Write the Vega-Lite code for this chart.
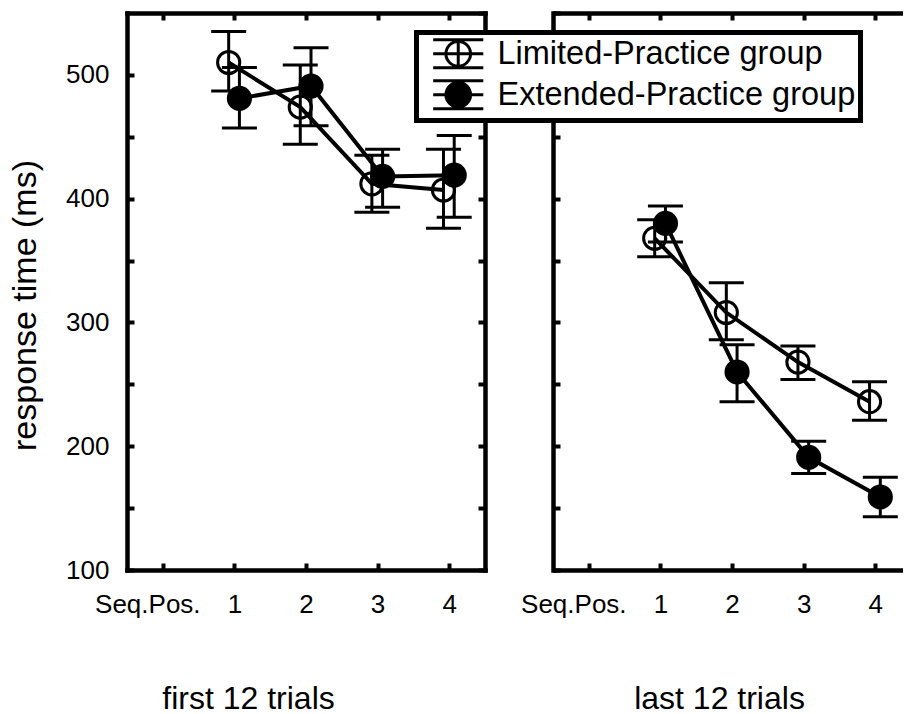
{
  "$schema": "https://vega.github.io/schema/vega-lite/v6.json",
  "padding": {"left": 8, "top": 11, "right": 0, "bottom": 0},
  "background": "white",
  "data": {
    "values": [
      {"block": "first", "group": "Limited-Practice group", "x": 0.92, "rt": 510, "lo": 487, "hi": 535},
      {"block": "first", "group": "Limited-Practice group", "x": 1.92, "rt": 474, "lo": 444, "hi": 508},
      {"block": "first", "group": "Limited-Practice group", "x": 2.92, "rt": 412, "lo": 389, "hi": 435},
      {"block": "first", "group": "Limited-Practice group", "x": 3.92, "rt": 407, "lo": 376, "hi": 440},
      {"block": "first", "group": "Extended-Practice group", "x": 1.07, "rt": 481, "lo": 457, "hi": 506},
      {"block": "first", "group": "Extended-Practice group", "x": 2.07, "rt": 491, "lo": 459, "hi": 522},
      {"block": "first", "group": "Extended-Practice group", "x": 3.07, "rt": 418, "lo": 393, "hi": 440},
      {"block": "first", "group": "Extended-Practice group", "x": 4.07, "rt": 419, "lo": 385, "hi": 451},
      {"block": "last", "group": "Limited-Practice group", "x": 0.92, "rt": 368, "lo": 353, "hi": 383},
      {"block": "last", "group": "Limited-Practice group", "x": 1.92, "rt": 308, "lo": 286, "hi": 332},
      {"block": "last", "group": "Limited-Practice group", "x": 2.92, "rt": 268, "lo": 254, "hi": 281},
      {"block": "last", "group": "Limited-Practice group", "x": 3.92, "rt": 236, "lo": 221, "hi": 252},
      {"block": "last", "group": "Extended-Practice group", "x": 1.07, "rt": 380, "lo": 365, "hi": 394},
      {"block": "last", "group": "Extended-Practice group", "x": 2.07, "rt": 260, "lo": 236, "hi": 282},
      {"block": "last", "group": "Extended-Practice group", "x": 3.07, "rt": 191, "lo": 178, "hi": 204},
      {"block": "last", "group": "Extended-Practice group", "x": 4.07, "rt": 159, "lo": 143, "hi": 175}
    ]
  },
  "spacing": 68,
  "bounds": "flush",
  "hconcat": [
    {
      "width": 358,
      "height": 557,
      "transform": [{"filter": "datum.block == 'first'"}],
      "layer": [
        {
          "mark": {"type": "rule", "stroke": "black", "strokeWidth": 3},
          "encoding": {
            "x": {"field": "x", "type": "quantitative", "scale": {"domain": [-0.5, 4.5], "nice": false, "zero": false},
              "axis": {"orient": "bottom", "values": [0, 1, 2, 3, 4], "domainCap": "square",
                "labelExpr": "datum.value == 0 ? 'Seq.Pos.' : datum.label",
                "labelOffset": {"condition": {"test": "datum.value == 0", "value": -15.5}, "value": 0},
                "labelPadding": 28,
                "title": "first 12 trials", "titleX": 121, "titleY": 138, "titleBaseline": "alphabetic"}},
            "y": {"field": "lo", "type": "quantitative", "scale": {"domain": [100, 550], "nice": false, "zero": false},
              "axis": {"orient": "left", "values": [100, 150, 200, 250, 300, 350, 400, 450, 500], "domainCap": "square",
                "labelExpr": "datum.value % 100 == 0 ? datum.label : ''",
                "labelPadding": 25,
                "title": "response time (ms)", "titleFontSize": 34, "titleX": -85, "titleY": 292}},
            "y2": {"field": "hi"}
          }
        },
        {
          "mark": {"type": "tick", "orient": "horizontal", "size": 35, "thickness": 3, "color": "black", "opacity": 1},
          "encoding": {
            "x": {"field": "x", "type": "quantitative",
              "axis": {"orient": "top", "values": [0, 1, 2, 3, 4], "labels": false, "title": null, "domainCap": "square"}},
            "y": {"field": "lo", "type": "quantitative",
              "axis": {"orient": "right", "values": [100, 150, 200, 250, 300, 350, 400, 450, 500, 550], "labels": false, "title": null, "domainCap": "square"}}
          }
        },
        {
          "mark": {"type": "tick", "orient": "horizontal", "size": 35, "thickness": 3, "color": "black", "opacity": 1},
          "encoding": {
            "x": {"field": "x", "type": "quantitative", "axis": null},
            "y": {"field": "hi", "type": "quantitative", "axis": null}
          }
        },
        {
          "mark": {"type": "line", "stroke": "black", "strokeWidth": 4},
          "encoding": {
            "x": {"field": "x", "type": "quantitative", "axis": null},
            "y": {"field": "rt", "type": "quantitative", "axis": null},
            "detail": {"field": "group", "type": "nominal"}
          }
        },
        {
          "mark": {"type": "point", "shape": "circle", "size": 491, "filled": true, "stroke": "black", "strokeWidth": 3, "opacity": 1},
          "encoding": {
            "x": {"field": "x", "type": "quantitative", "axis": null},
            "y": {"field": "rt", "type": "quantitative", "axis": null},
            "fill": {"field": "group", "type": "nominal",
              "scale": {"domain": ["Limited-Practice group", "Extended-Practice group"], "range": ["transparent", "black"]},
              "legend": {"title": null, "orient": "none", "legendX": 289.5, "legendY": 19.5,
                "symbolType": "M-1.79,-1H1.79M-1.79,0H1.79M-1.79,1H1.79M0,-1V1M0.88,0A0.88,0.88,0,1,1,-0.88,0A0.88,0.88,0,1,1,0.88,0Z",
                "symbolSize": 784, "symbolStrokeColor": "black", "symbolStrokeWidth": 3,
                "labelFontSize": 32.5, "labelFont": "Liberation Sans", "labelColor": "black", "labelLimit": 0,
                "labelOffset": 23, "symbolOffset": 20.5, "padding": 5, "rowPadding": 0,
                "strokeColor": "black", "fillColor": "white",
                "encode": {"legend": {"update": {"strokeWidth": {"value": 5}}}}}}
          }
        }
      ],
      "resolve": {"axis": {"x": "independent", "y": "independent"}}
    },
    {
      "width": 349.5,
      "height": 557,
      "transform": [{"filter": "datum.block == 'last'"}],
      "layer": [
        {
          "mark": {"type": "rule", "stroke": "black", "strokeWidth": 3},
          "encoding": {
            "x": {"field": "x", "type": "quantitative", "scale": {"domain": [-0.5, 4.38], "nice": false, "zero": false},
              "axis": {"orient": "bottom", "values": [0, 1, 2, 3, 4], "domainCap": "butt",
                "labelExpr": "datum.value == 0 ? 'Seq.Pos.' : datum.label",
                "labelOffset": {"condition": {"test": "datum.value == 0", "value": -15.5}, "value": 0},
                "labelPadding": 28,
                "title": "last 12 trials", "titleX": 166, "titleY": 138, "titleBaseline": "alphabetic"}},
            "y": {"field": "lo", "type": "quantitative", "scale": {"domain": [100, 550], "nice": false, "zero": false},
              "axis": {"orient": "left", "values": [100, 150, 200, 250, 300, 350, 400, 450, 500, 550], "domainCap": "square",
                "labels": false, "title": null}},
            "y2": {"field": "hi"}
          }
        },
        {
          "mark": {"type": "tick", "orient": "horizontal", "size": 35, "thickness": 3, "color": "black", "opacity": 1},
          "encoding": {
            "x": {"field": "x", "type": "quantitative",
              "axis": {"orient": "top", "values": [0, 1, 2, 3, 4], "labels": false, "title": null, "domainCap": "butt"}},
            "y": {"field": "lo", "type": "quantitative", "axis": null}
          }
        },
        {
          "mark": {"type": "tick", "orient": "horizontal", "size": 35, "thickness": 3, "color": "black", "opacity": 1},
          "encoding": {
            "x": {"field": "x", "type": "quantitative", "axis": null},
            "y": {"field": "hi", "type": "quantitative", "axis": null}
          }
        },
        {
          "mark": {"type": "line", "stroke": "black", "strokeWidth": 4},
          "encoding": {
            "x": {"field": "x", "type": "quantitative", "axis": null},
            "y": {"field": "rt", "type": "quantitative", "axis": null},
            "detail": {"field": "group", "type": "nominal"}
          }
        },
        {
          "mark": {"type": "point", "shape": "circle", "size": 491, "filled": true, "stroke": "black", "strokeWidth": 3, "opacity": 1},
          "encoding": {
            "x": {"field": "x", "type": "quantitative", "axis": null},
            "y": {"field": "rt", "type": "quantitative", "axis": null},
            "fill": {"field": "group", "type": "nominal",
              "scale": {"domain": ["Limited-Practice group", "Extended-Practice group"], "range": ["transparent", "black"]}}
          }
        }
      ],
      "resolve": {"axis": {"x": "independent", "y": "independent"}}
    }
  ],
  "config": {
    "font": "Liberation Sans",
    "view": {"stroke": null},
    "legend": {"strokeWidth": 5},
    "axis": {
      "domainColor": "black", "tickColor": "black", "labelColor": "black", "titleColor": "black",
      "domainWidth": 4.5, "tickWidth": 4, "tickSize": -7, "grid": false,
      "labelFontSize": 26, "titleFontSize": 32, "titleFontWeight": "normal",
      "labelFlush": false, "labelOverlap": false,
      "labelFont": "Liberation Sans", "titleFont": "Liberation Sans"
    }
  }
}
